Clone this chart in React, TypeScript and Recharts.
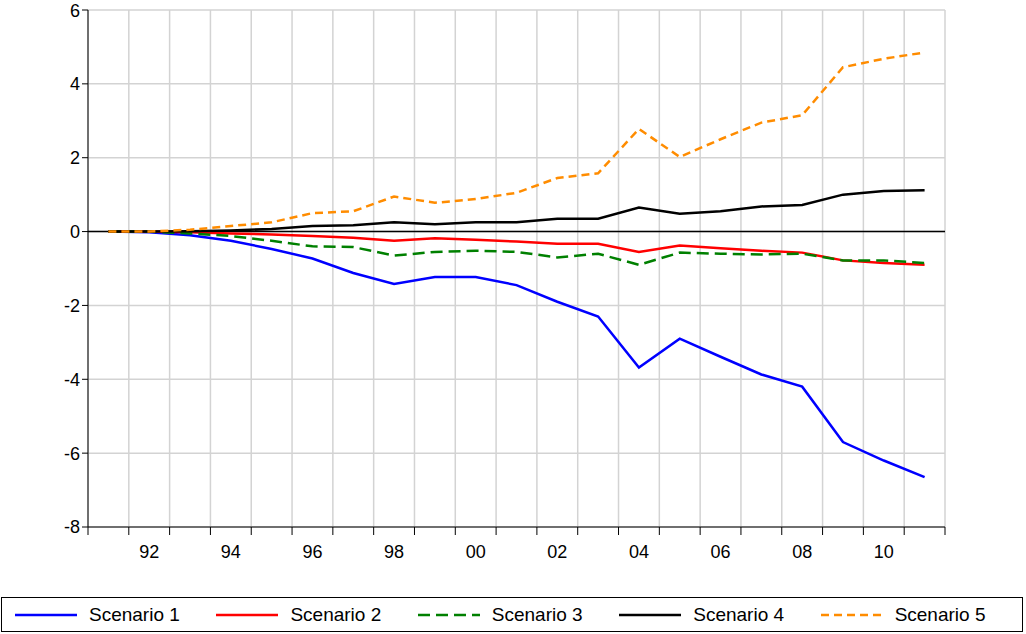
import React from 'react'
import { LineChart, Line, XAxis, YAxis, CartesianGrid, ReferenceLine } from 'recharts'

const years = [1991, 1992, 1993, 1994, 1995, 1996, 1997, 1998, 1999, 2000, 2001, 2002, 2003, 2004, 2005, 2006, 2007, 2008, 2009, 2010, 2011]
const scenario1 = [0, -0.02, -0.1, -0.25, -0.47, -0.73, -1.12, -1.42, -1.23, -1.23, -1.45, -1.9, -2.3, -3.68, -2.9, -3.39, -3.87, -4.2, -5.7, -6.2, -6.65]
const scenario2 = [0, 0, -0.02, -0.05, -0.08, -0.12, -0.17, -0.25, -0.18, -0.22, -0.27, -0.33, -0.33, -0.55, -0.38, -0.45, -0.52, -0.57, -0.78, -0.85, -0.9]
const scenario3 = [0, 0, -0.05, -0.12, -0.25, -0.4, -0.42, -0.65, -0.55, -0.52, -0.55, -0.7, -0.6, -0.9, -0.57, -0.6, -0.62, -0.6, -0.78, -0.78, -0.85]
const scenario4 = [0, 0, 0.01, 0.03, 0.07, 0.15, 0.17, 0.25, 0.2, 0.25, 0.25, 0.35, 0.35, 0.65, 0.48, 0.55, 0.68, 0.72, 1.0, 1.1, 1.12]
const scenario5 = [0, 0, 0.05, 0.15, 0.25, 0.5, 0.55, 0.95, 0.78, 0.88, 1.05, 1.45, 1.58, 2.78, 2.02, 2.5, 2.95, 3.15, 4.45, 4.68, 4.85]
const yTicks = [-8, -6, -4, -2, 0, 2, 4, 6]
const labelYears = [1992, 1994, 1996, 1998, 2000, 2002, 2004, 2006, 2008, 2010]
const gridYears = [...years.map(y => y - 0.5), 2011.5]

const SERIES = [
  { key: 's1', name: 'Scenario 1', color: '#0000ff', dash: undefined },
  { key: 's2', name: 'Scenario 2', color: '#ff0000', dash: undefined },
  { key: 's3', name: 'Scenario 3', color: '#008000', dash: '12 6' },
  { key: 's4', name: 'Scenario 4', color: '#000000', dash: undefined },
  { key: 's5', name: 'Scenario 5', color: '#ff8c00', dash: '8 5' },
]

const data = years.map((year, i) => ({
  year,
  s1: scenario1[i],
  s2: scenario2[i],
  s3: scenario3[i],
  s4: scenario4[i],
  s5: scenario5[i],
}))

const font = { fontFamily: 'Liberation Sans, Arial, sans-serif', fontSize: 18, fill: '#000' }

export default function App() {
  return (
    <div style={{ position: 'absolute', left: 0, top: 0, width: 1026, height: 634, background: '#fff', fontFamily: 'Liberation Sans, Arial, sans-serif' }}>
      <LineChart width={960} height={570} data={data} margin={{ top: 10, right: 15, bottom: 0, left: 0 }}>
        <CartesianGrid stroke="#d3d3d3" strokeWidth={1.5} />
        <XAxis
          dataKey="year"
          type="number"
          domain={[1990.5, 2011.5]}
          ticks={gridYears}
          tickFormatter={() => ''}
          stroke="#000"
          tickSize={8}
          height={8}
        />
        <XAxis
          xAxisId="labels"
          dataKey="year"
          type="number"
          domain={[1990.5, 2011.5]}
          ticks={labelYears}
          tickFormatter={(v: number) => String(v).slice(2)}
          axisLine={false}
          tickLine={false}
          tick={font}
          tickMargin={4}
          height={35}
        />
        <XAxis xAxisId="top" orientation="top" type="number" domain={[1990.5, 2011.5]} tick={false} tickLine={false} stroke="#000" height={0} />
        <YAxis domain={[-8, 6]} ticks={yTicks} tick={font} stroke="#000" tickSize={6} width={88} />
        <YAxis yAxisId="right" orientation="right" domain={[-8, 6]} tick={false} tickLine={false} stroke="#000" width={0} />
        <ReferenceLine y={0} stroke="#000" strokeWidth={1.5} />
        {SERIES.map(s => (
          <Line
            key={s.key}
            dataKey={s.key}
            name={s.name}
            stroke={s.color}
            strokeWidth={2.5}
            strokeDasharray={s.dash}
            dot={false}
            isAnimationActive={false}
          />
        ))}
      </LineChart>
      <div style={{ position: 'absolute', left: 1, top: 597, width: 1022, height: 35, border: '1px solid #000', display: 'flex', alignItems: 'center', paddingLeft: 13, boxSizing: 'border-box', fontSize: 19 }}>
        {SERIES.map(s => (
          <div key={s.key} style={{ display: 'flex', alignItems: 'center', gap: 12, width: 202 }}>
            <svg width={62} height={6}>
              <line x1={0} y1={3} x2={62} y2={3} stroke={s.color} strokeWidth={2.5} strokeDasharray={s.dash} />
            </svg>
            <span>{s.name}</span>
          </div>
        ))}
      </div>
    </div>
  )
}
